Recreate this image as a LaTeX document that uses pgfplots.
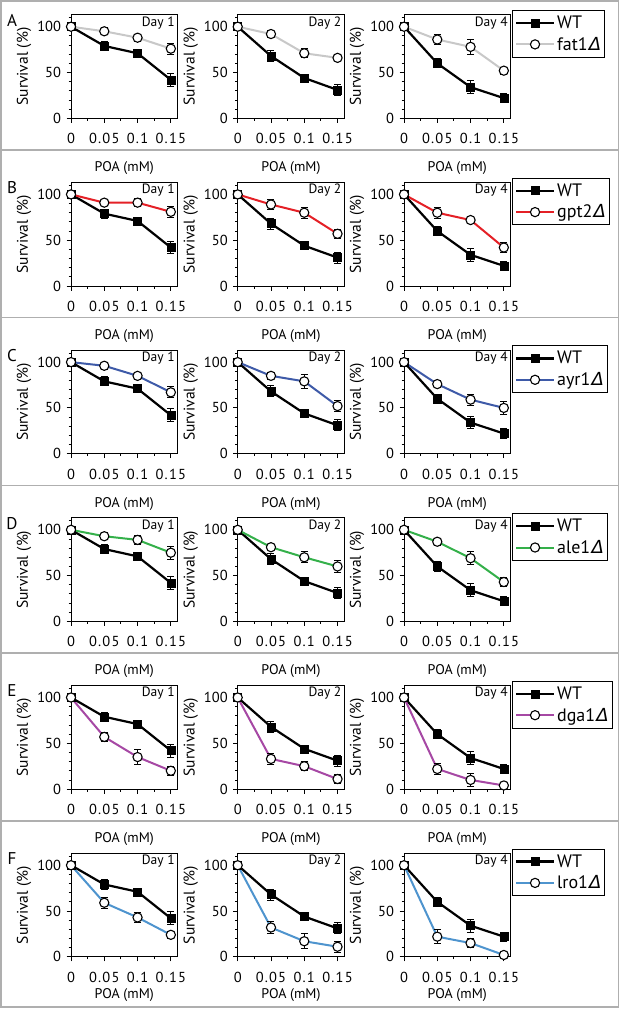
\documentclass[border=0pt]{standalone}
\usepackage{fontspec}
\setmainfont{PT Sans}
\newfontfamily\xtf[LetterSpace=8]{PT Sans}
\newfontfamily\grk[FakeSlant=0.2]{DejaVu Sans}
\usepackage{pgfplots}
\pgfplotsset{compat=1.18}

\definecolor{cgray}{RGB}{200,200,200}
\definecolor{cred}{RGB}{228,32,38}
\definecolor{cblue}{RGB}{62,90,168}
\definecolor{cgreen}{RGB}{52,176,74}
\definecolor{cpurple}{RGB}{166,72,164}
\definecolor{clblue}{RGB}{78,148,206}
\definecolor{framec}{RGB}{175,175,175}

\pgfplotsset{
 pan/.style={
  scale only axis, width=106.5pt, height=103.5pt,
  anchor=south west, clip=false,
  xmin=0, xmax=0.16, ymin=0, ymax=113,
  xtick={0,0.05,0.1,0.15}, xticklabels={0,0.05,0.1,0.15},
  ytick={0,50,100},
  minor xtick={0.025,0.075,0.125},
  minor ytick={10,20,30,40,60,70,80,90,110},
  tick align=outside, xtick pos=bottom, ytick pos=left,
  major tick length=4.5pt, minor tick length=2.5pt,
  tick style={black, line width=0.9pt},
  axis line style={black, line width=0.9pt},
  yticklabel style={font=\fontsize{14.5}{16}\selectfont},
  xticklabel style={font=\xtf\fontsize{14.5}{16}\selectfont},
  xticklabel shift=7pt, yticklabel shift=2pt,
  /pgf/number format/assume math mode=true,
  xlabel={POA (mM)}, ylabel={Survival (\%)},
  xlabel style={font=\fontsize{14}{16}\selectfont, at={(axis description cs:0.5,-0.37)}, anchor=center},
  ylabel style={font=\fontsize{15.5}{17}\selectfont, at={(axis description cs:-0.44,0.5)}, anchor=center},
 },
 rowshift/.style={xlabel style={at={(axis description cs:0.5,-0.483)}}},
 legopts/.style={
  legend style={draw=black, line width=0.9pt, at={(1.014,1.046)}, anchor=north west,
   font=\fontsize{18}{20}\selectfont, inner xsep=2.5pt, inner ysep=3.5pt,
   cells={anchor=west}, row sep=3pt},
  legend image code/.code={\draw[mark repeat=2,mark phase=2,##1] plot coordinates {(0pt,0pt) (19pt,0pt) (38pt,0pt)};},
  legend entries={WT,#1},
 },
 wt/.style={black, line width=2.2pt, mark=square*, mark size=4pt,
  mark options={solid, fill=black, line width=0.5pt},
  error bars/.cd, y dir=both, y explicit,
  error bar style={black, line width=1pt},
  error mark options={rotate=90, mark size=3.5pt, line width=1pt, black}},
 mut/.style={#1, line width=2pt, mark=*, mark size=4.6pt,
  mark options={solid, fill=white, draw=black, line width=1.1pt},
  error bars/.cd, y dir=both, y explicit,
  error bar style={black, line width=1pt},
  error mark options={rotate=90, mark size=3.5pt, line width=1pt, black}},
}

\newcommand{\panel}[7][]{%
\begin{axis}[pan, at={(#2pt,-#3pt)}, #1]
\addplot[wt] coordinates {#5};
\addplot[mut=#6] coordinates {#7};
\node[anchor=north east, inner sep=0pt, font=\fontsize{13.5}{15}\selectfont] at (rel axis cs:0.975,0.985) {Day #4};
\end{axis}}

\begin{document}
\begin{tikzpicture}
\useasboundingbox (0,0) rectangle (620pt,-1009pt);
\draw[framec, line width=1.5pt] (1pt,-1pt) rectangle (618.5pt,-1007pt);
\foreach \yy in {150,317.7,485.4,653.1,820.8} {\draw[framec, line width=1.5pt] (1pt,-\yy pt) -- (618.5pt,-\yy pt);}
\foreach \L/\yy in {A/20,B/187.7,C/355.4,D/523.1,E/690.8,F/858.5} {\node[font=\fontsize{17}{19}\selectfont] at (12pt,-\yy pt) {\L};}

% Row A
\panel[rowshift]{71}{118.3}{1}{(0,100) +- (0,0) (0.05,79) +- (0,5) (0.1,71) +- (0,3) (0.15,42) +- (0,7)}{cgray}{(0,100) +- (0,0) (0.05,95) +- (0,4) (0.1,88) +- (0,4) (0.15,76) +- (0,6)}
\panel[rowshift]{237.7}{118.3}{2}{(0,100) +- (0,0) (0.05,68) +- (0,6) (0.1,44) +- (0,3) (0.15,31) +- (0,6)}{cgray}{(0,100) +- (0,0) (0.05,92) +- (0,4) (0.1,71) +- (0,5) (0.15,66) +- (0,3)}
\panel[rowshift, legopts={fat1{\grk Δ}}]{404}{118.3}{4}{(0,100) +- (0,0) (0.05,60) +- (0,5) (0.1,34) +- (0,7) (0.15,22) +- (0,5)}{cgray}{(0,100) +- (0,0) (0.05,86) +- (0,5) (0.1,78) +- (0,8) (0.15,52) +- (0,4)}

% Row B
\panel[rowshift]{71}{286}{1}{(0,100) +- (0,0) (0.05,79) +- (0,5) (0.1,71) +- (0,3) (0.15,42) +- (0,7)}{cred}{(0,100) +- (0,0) (0.05,91) +- (0,3) (0.1,91) +- (0,4) (0.15,81) +- (0,6)}
\panel[rowshift]{237.7}{286}{2}{(0,100) +- (0,0) (0.05,68) +- (0,6) (0.1,44) +- (0,3) (0.15,31) +- (0,6)}{cred}{(0,100) +- (0,0) (0.05,89) +- (0,5) (0.1,80) +- (0,6) (0.15,57) +- (0,5)}
\panel[rowshift, legopts={gpt2{\grk Δ}}]{404}{286}{4}{(0,100) +- (0,0) (0.05,60) +- (0,5) (0.1,34) +- (0,7) (0.15,22) +- (0,5)}{cred}{(0,100) +- (0,0) (0.05,80) +- (0,6) (0.1,72) +- (0,4) (0.15,42) +- (0,5)}

% Row C
\panel[rowshift]{71}{453.7}{1}{(0,100) +- (0,0) (0.05,79) +- (0,5) (0.1,71) +- (0,3) (0.15,42) +- (0,7)}{cblue}{(0,100) +- (0,0) (0.05,96) +- (0,4) (0.1,85) +- (0,4) (0.15,67) +- (0,6)}
\panel[rowshift]{237.7}{453.7}{2}{(0,100) +- (0,0) (0.05,68) +- (0,6) (0.1,44) +- (0,3) (0.15,31) +- (0,6)}{cblue}{(0,100) +- (0,0) (0.05,85) +- (0,4) (0.1,79) +- (0,8) (0.15,52) +- (0,6)}
\panel[rowshift, legopts={ayr1{\grk Δ}}]{404}{453.7}{4}{(0,100) +- (0,0) (0.05,60) +- (0,5) (0.1,34) +- (0,7) (0.15,22) +- (0,5)}{cblue}{(0,100) +- (0,0) (0.05,76) +- (0,4) (0.1,59) +- (0,6) (0.15,50) +- (0,7)}

% Row D
\panel[rowshift]{71}{621.4}{1}{(0,100) +- (0,0) (0.05,79) +- (0,5) (0.1,71) +- (0,3) (0.15,42) +- (0,7)}{cgreen}{(0,100) +- (0,0) (0.05,93) +- (0,4) (0.1,89) +- (0,5) (0.15,75) +- (0,7)}
\panel[rowshift]{237.7}{621.4}{2}{(0,100) +- (0,0) (0.05,68) +- (0,6) (0.1,44) +- (0,3) (0.15,31) +- (0,6)}{cgreen}{(0,100) +- (0,0) (0.05,81) +- (0,3) (0.1,70) +- (0,6) (0.15,60) +- (0,7)}
\panel[rowshift, legopts={ale1{\grk Δ}}]{404}{621.4}{4}{(0,100) +- (0,0) (0.05,60) +- (0,5) (0.1,34) +- (0,7) (0.15,22) +- (0,5)}{cgreen}{(0,100) +- (0,0) (0.05,87) +- (0,4) (0.1,69) +- (0,7) (0.15,43) +- (0,5)}

% Row E
\panel[rowshift]{71}{789.1}{1}{(0,100) +- (0,0) (0.05,79) +- (0,5) (0.1,71) +- (0,3) (0.15,42) +- (0,7)}{cpurple}{(0,100) +- (0,0) (0.05,57) +- (0,5) (0.1,35) +- (0,8) (0.15,20) +- (0,5)}
\panel[rowshift]{237.7}{789.1}{2}{(0,100) +- (0,0) (0.05,68) +- (0,6) (0.1,44) +- (0,3) (0.15,31) +- (0,6)}{cpurple}{(0,100) +- (0,0) (0.05,33) +- (0,6) (0.1,25) +- (0,5) (0.15,11) +- (0,5)}
\panel[rowshift, legopts={dga1{\grk Δ}}]{404}{789.1}{4}{(0,100) +- (0,0) (0.05,60) +- (0,5) (0.1,34) +- (0,7) (0.15,22) +- (0,5)}{cpurple}{(0,100) +- (0,0) (0.05,22) +- (0,6) (0.1,10) +- (0,7) (0.15,4) +- (0,3)}

% Row F
\panel{71}{956.8}{1}{(0,100) +- (0,0) (0.05,79) +- (0,5) (0.1,71) +- (0,3) (0.15,42) +- (0,7)}{clblue}{(0,100) +- (0,0) (0.05,59) +- (0,6) (0.1,43) +- (0,5) (0.15,24) +- (0,4)}
\panel{237.7}{956.8}{2}{(0,100) +- (0,0) (0.05,68) +- (0,6) (0.1,44) +- (0,3) (0.15,31) +- (0,6)}{clblue}{(0,100) +- (0,0) (0.05,32) +- (0,7) (0.1,17) +- (0,8) (0.15,11) +- (0,6)}
\panel[legopts={lro1{\grk Δ}}]{404}{956.8}{4}{(0,100) +- (0,0) (0.05,60) +- (0,5) (0.1,34) +- (0,7) (0.15,22) +- (0,5)}{clblue}{(0,100) +- (0,0) (0.05,22) +- (0,8) (0.1,15) +- (0,5) (0.15,2) +- (0,2)}
\end{tikzpicture}
\end{document}
